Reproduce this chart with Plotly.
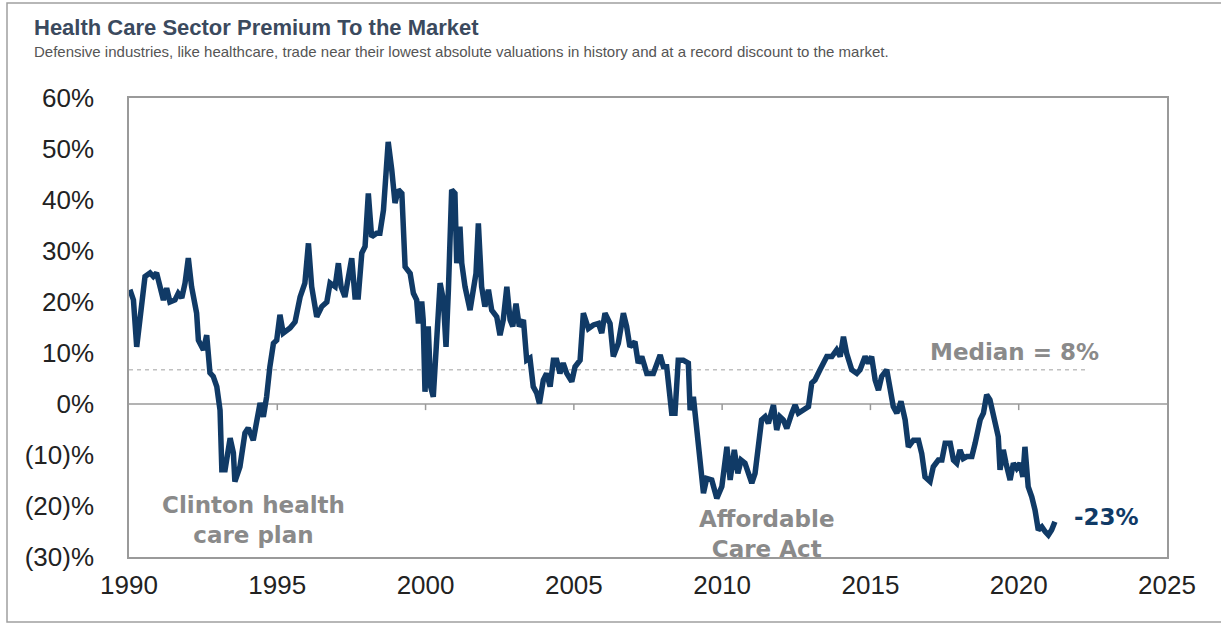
import plotly.graph_objects as go

# ---- data -------------------------------------------------------------
years = [1990.03, 1990.15, 1990.26, 1990.37, 1990.54, 1990.71, 1990.82, 1990.93, 1991.10, 1991.16,
         1991.27, 1991.38, 1991.55, 1991.66, 1991.78, 1991.89, 1992.00, 1992.11, 1992.28, 1992.34,
         1992.51, 1992.62, 1992.73, 1992.84, 1992.96, 1993.07, 1993.13, 1993.24, 1993.41, 1993.52,
         1993.57, 1993.74, 1993.91, 1994.02, 1994.19, 1994.31, 1994.42, 1994.53, 1994.64, 1994.75,
         1994.87, 1994.98, 1995.09, 1995.20, 1995.43, 1995.60, 1995.77, 1995.93, 1996.05, 1996.16,
         1996.33, 1996.50, 1996.67, 1996.78, 1996.95, 1997.06, 1997.15, 1997.28, 1997.37, 1997.51,
         1997.62, 1997.73, 1997.85, 1997.96, 1998.07, 1998.18, 1998.35, 1998.46, 1998.58, 1998.74,
         1998.86, 1998.97, 1999.08, 1999.20, 1999.31, 1999.48, 1999.59, 1999.70, 1999.76, 1999.87,
         1999.92, 1999.98, 2000.09, 2000.17, 2000.26, 2000.35, 2000.49, 2000.60, 2000.69, 2000.77,
         2000.88, 2000.99, 2001.05, 2001.16, 2001.22, 2001.33, 2001.50, 2001.61, 2001.70, 2001.78,
         2001.89, 2002.00, 2002.12, 2002.23, 2002.40, 2002.51, 2002.62, 2002.74, 2002.85, 2002.94,
         2003.05, 2003.16, 2003.30, 2003.41, 2003.52, 2003.63, 2003.75, 2003.84, 2003.97, 2004.08,
         2004.20, 2004.31, 2004.42, 2004.53, 2004.64, 2004.76, 2004.93, 2005.04, 2005.21, 2005.32,
         2005.49, 2005.66, 2005.83, 2005.94, 2006.05, 2006.22, 2006.33, 2006.50, 2006.67, 2006.78,
         2006.89, 2007.06, 2007.17, 2007.29, 2007.46, 2007.68, 2007.91, 2008.02, 2008.13, 2008.30,
         2008.41, 2008.52, 2008.69, 2008.86, 2008.92, 2009.03, 2009.09, 2009.25, 2009.37, 2009.48,
         2009.65, 2009.82, 2009.99, 2010.16, 2010.27, 2010.41, 2010.53, 2010.64, 2010.77, 2011.00,
         2011.11, 2011.33, 2011.45, 2011.56, 2011.73, 2011.84, 2011.95, 2012.06, 2012.18, 2012.35,
         2012.46, 2012.57, 2012.74, 2012.91, 2013.02, 2013.13, 2013.30, 2013.53, 2013.70, 2013.86,
         2013.98, 2014.09, 2014.20, 2014.37, 2014.54, 2014.65, 2014.82, 2014.93, 2015.04, 2015.16,
         2015.27, 2015.38, 2015.55, 2015.66, 2015.77, 2015.89, 2016.03, 2016.17, 2016.28, 2016.45,
         2016.62, 2016.73, 2016.84, 2017.01, 2017.12, 2017.29, 2017.41, 2017.52, 2017.69, 2017.80,
         2017.91, 2018.02, 2018.13, 2018.25, 2018.42, 2018.53, 2018.70, 2018.81, 2018.92, 2019.03,
         2019.20, 2019.31, 2019.37, 2019.48, 2019.57, 2019.71, 2019.82, 2019.93, 2020.04, 2020.14,
         2020.21, 2020.32, 2020.44, 2020.55, 2020.66, 2020.78, 2020.89, 2021.00, 2021.11, 2021.22]

premium = [22.4, 20.4, 11.2, 15.9, 25.0, 25.7, 25.0, 25.7, 22.4, 20.4,
           22.7, 20.0, 20.4, 21.7, 20.8, 23.7, 28.6, 23.0, 17.8, 12.5,
           10.6, 13.5, 6.1, 5.4, 3.4, -1.2, -12.9, -12.9, -6.7, -9.6,
           -15.2, -12.3, -5.7, -4.7, -7.1, -3.1, 0.2, -2.5, 1.4, 7.3,
           11.9, 12.5, 17.5, 13.9, 14.9, 16.1, 21.0, 23.7, 31.5, 23.0,
           17.1, 19.1, 20.0, 23.7, 23.0, 27.6, 23.0, 21.0, 24.3, 28.6,
           21.0, 21.0, 29.6, 30.9, 41.3, 32.8, 33.5, 33.5, 38.0, 51.4,
           45.9, 39.4, 42.0, 41.3, 26.9, 25.6, 21.7, 20.4, 15.8, 20.1,
           16.5, 2.4, 15.2, 3.4, 1.4, 11.2, 23.7, 20.4, 11.2, 22.4,
           42.0, 41.3, 27.6, 34.8, 27.6, 23.0, 18.4, 22.4, 25.6, 35.4,
           23.0, 19.1, 22.4, 18.4, 17.1, 13.5, 16.5, 23.0, 16.5, 15.2,
           19.7, 15.2, 16.5, 8.6, 9.0, 3.4, 2.1, 0.1, 4.7, 6.0,
           3.4, 8.6, 8.6, 6.0, 8.0, 6.0, 4.4, 7.3, 8.6, 17.8,
           14.8, 15.5, 15.8, 13.9, 17.8, 15.8, 9.3, 11.9, 17.8, 15.2,
           11.2, 12.2, 8.0, 9.3, 6.0, 6.0, 9.6, 7.3, 7.3, -1.8,
           -1.8, 8.6, 8.6, 8.0, -1.2, 1.4, -2.2, -9.7, -17.5, -14.6,
           -14.9, -18.5, -16.2, -8.4, -14.9, -9.0, -13.6, -11.0, -11.6, -15.5,
           -13.6, -3.1, -2.5, -3.8, -0.2, -5.1, -2.5, -3.1, -4.8, -1.8,
           -0.2, -1.8, -1.2, -0.5, 4.1, 4.7, 6.7, 9.3, 9.3, 10.6,
           9.3, 13.2, 9.9, 6.7, 6.0, 6.7, 9.3, 8.0, 9.3, 4.7,
           2.7, 5.4, 6.7, 2.7, -0.5, -1.8, 0.5, -3.1, -8.4, -7.1,
           -7.1, -9.7, -14.3, -15.2, -12.3, -11.0, -11.0, -7.7, -7.7, -11.0,
           -11.6, -9.0, -10.7, -10.3, -10.3, -7.7, -3.1, -1.8, 1.8, 0.8,
           -3.8, -6.4, -12.9, -9.0, -11.6, -14.9, -11.6, -12.6, -11.6, -14.3,
           -8.4, -16.2, -18.2, -20.8, -24.7, -24.1, -25.0, -25.7, -24.7, -23.1]

median_line_y = 6.7
median_span = [1990, 2022.24]
median_label = "Median = 8%"
last_label = "-23%"

y_tickvals = [60, 50, 40, 30, 20, 10, 0, -10, -20, -30]
y_ticktext = ["60%", "50%", "40%", "30%", "20%", "10%", "0%", "(10)%", "(20)%", "(30)%"]
x_tickvals = [1990, 1995, 2000, 2005, 2010, 2015, 2020, 2025]
x_ticktext = ["1990", "1995", "2000", "2005", "2010", "2015", "2020", "2025"]
zero_ticks = [1995, 2000, 2005, 2010, 2015, 2020]

events = [
    {"text": "Clinton health<br>care plan", "x": 1994.2, "y": -22.7},
    {"text": "Affordable<br>Care Act", "x": 2011.5, "y": -25.4},
]

title = "Health Care Sector Premium To the Market"
subtitle = ("Defensive industries, like healthcare, trade near their lowest absolute "
            "valuations in history and at a record discount to the market.")

# ---- figure -----------------------------------------------------------
W, H = 1221, 624
L, R, T, B = 129, 54, 98, 67
pw, ph = W - L - R, H - T - B


def px_x(p):
    return (p - L) / pw


def px_y(p):
    return 1 - (p - T) / ph


NAVY = "#103a66"
GREY_TXT = "#8a8a8a"
AXIS_GREY = "#9a9a9a"

fig = go.Figure()

fig.add_trace(go.Scatter(
    x=median_span, y=[median_line_y, median_line_y], mode="lines",
    line=dict(color="#c0c0c0", width=1.5, dash="4px,4px"),
    hoverinfo="skip", showlegend=False))

fig.add_trace(go.Scatter(
    x=years, y=premium, mode="lines",
    line=dict(color=NAVY, width=5.5),
    showlegend=False))

shapes = []
shapes.append(dict(type="line", xref="paper", yref="y", x0=0, x1=1, y0=0, y1=0,
                   line=dict(color=AXIS_GREY, width=1.5), layer="below"))
for t in zero_ticks:
    shapes.append(dict(type="line", xref="x", yref="y", x0=t, x1=t, y0=0, y1=-1.2,
                       line=dict(color=AXIS_GREY, width=1.5), layer="below"))
shapes.append(dict(type="rect", xref="paper", yref="paper",
                   x0=px_x(7), x1=px_x(1225), y0=px_y(622), y1=px_y(3),
                   line=dict(color="#a0a0a0", width=1.5), layer="below"))

annotations = [
    dict(text="<b>" + title + "</b>", xref="paper", yref="paper",
         x=px_x(32), y=px_y(27), xanchor="left", yanchor="middle", showarrow=False,
         font=dict(family="Liberation Sans, Arial", size=22, color="#3b4a5e")),
    dict(text=subtitle, xref="paper", yref="paper",
         x=px_x(32), y=px_y(52), xanchor="left", yanchor="middle", showarrow=False,
         font=dict(family="Liberation Sans, Arial", size=15, color="#555555")),
    dict(text="<b>" + median_label + "</b>", xref="x", yref="y",
         x=2019.87, y=10.1, xanchor="center", yanchor="middle", showarrow=False,
         font=dict(family="DejaVu Sans", size=23, color=GREY_TXT)),
    dict(text="<b>" + last_label + "</b>", xref="x", yref="y",
         x=2021.8, y=-22.2, xanchor="left", yanchor="middle", showarrow=False,
         font=dict(family="DejaVu Sans", size=23, color=NAVY)),
]
for ev in events:
    annotations.append(dict(text="<b>" + ev["text"] + "</b>", xref="x", yref="y",
                            x=ev["x"], y=ev["y"], xanchor="center", yanchor="middle",
                            showarrow=False, align="center",
                            font=dict(family="DejaVu Sans", size=23, color=GREY_TXT)))

fig.update_layout(
    width=W, height=H,
    margin=dict(l=L, r=R, t=T, b=B, pad=0),
    paper_bgcolor="white", plot_bgcolor="white",
    shapes=shapes, annotations=annotations,
    xaxis=dict(range=[1990, 2025], tickvals=x_tickvals, ticktext=x_ticktext,
               showgrid=False, zeroline=False, showline=True, mirror=True,
               linecolor=AXIS_GREY, linewidth=1.5, ticks="",
               ticklabelstandoff=4,
               tickfont=dict(family="Liberation Sans, Arial", size=26, color="#222222")),
    yaxis=dict(range=[-30, 60], tickvals=y_tickvals, ticktext=y_ticktext,
               showgrid=False, zeroline=False, showline=True, mirror=True,
               linecolor=AXIS_GREY, linewidth=1.5, ticks="",
               ticklabelstandoff=28,
               tickfont=dict(family="Liberation Sans, Arial", size=26, color="#222222")),
    hovermode=False,
)

fig.write_html("out.html")
